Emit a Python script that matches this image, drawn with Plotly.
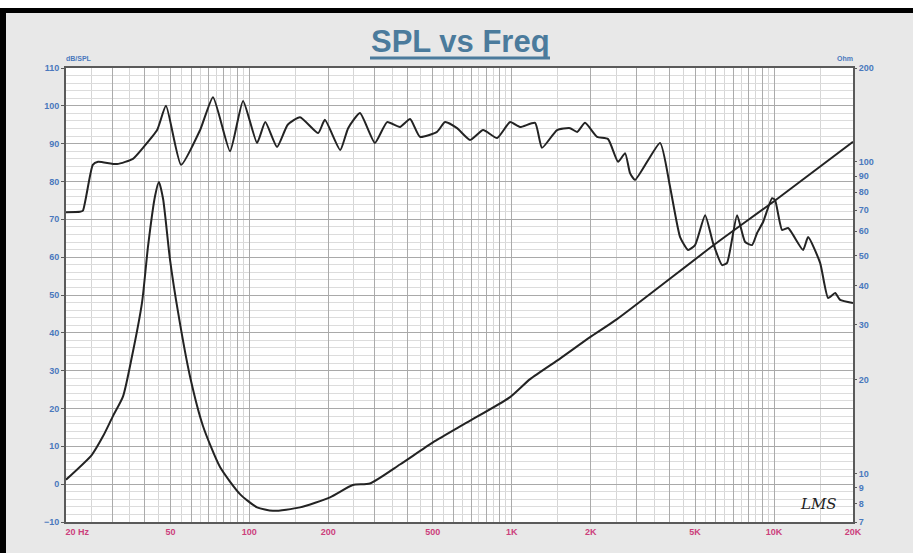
import plotly.graph_objects as go

# ---- data ----
spl_freq = [20, 22.6, 23.2, 25.3, 26.5, 31.3, 36, 39.3, 44.5, 48.1, 54.9, 64.9, 72.7, 84.4, 94.6,
            107, 115, 127.5, 140, 156, 183, 194, 222, 238, 264, 301, 335, 375, 410, 447, 519, 557,
            619, 694, 778, 880, 986, 1076, 1228, 1305, 1489, 1669, 1776, 1904, 2116, 2330, 2544,
            2706, 2826, 2953, 3678, 4017, 4385, 4702, 5000, 5462, 5858, 6340, 6622, 7230, 7758,
            8248, 8618, 9086, 9830, 10092, 10732, 11312, 11818, 12904, 13486, 14986, 16078, 17100,
            17864, 20000]
spl_db = [71.9, 72.0, 72.3, 84.4, 85.2, 84.6, 86.0, 88.9, 93.6, 100.0, 84.4, 93.6, 102.3, 88.0, 101.3,
          90.2, 95.7, 89.1, 95.0, 97.0, 92.8, 96.3, 88.3, 94.1, 98.1, 90.2, 95.7, 94.4, 96.5, 91.8, 93.1, 95.7,
          94.1, 91.0, 93.6, 91.5, 95.7, 94.4, 95.5, 88.9, 93.6, 94.1, 93.1, 95.5, 91.8, 91.2, 85.2,
          87.5, 82.2, 80.4, 90.2, 78.5, 65.3, 61.9, 63.2, 71.1, 63.7, 57.9, 58.5, 71.1, 64.0,
          63.2, 66.4, 69.3, 75.6, 75.1, 67.2, 67.7, 65.9, 61.9, 65.3, 58.5, 49.2, 50.5,
          48.7, 47.9]

imp_freq = [20, 25.1, 27.7, 30.2, 33.0, 35.7, 39.0, 41.1, 43.7, 45.2, 46.9, 49.8, 53.5, 59.4, 66.6,
            77.3, 92.1, 107, 123, 156, 203, 248, 288, 375, 501, 676, 986, 1175, 1529, 1990, 2521,
            5963, 10092, 20000]
imp_ohm = [9.57, 11.5, 13.2, 15.3, 17.7, 23.8, 35.5, 53.7, 77.7, 86.2, 76.0, 48.8, 32.9, 20.5, 14.2,
           10.5, 8.6, 7.8, 7.6, 7.8, 8.4, 9.2, 9.3, 10.7, 12.6, 14.6, 17.6, 20.1, 23.4, 27.4, 31.3,
           54.5, 75.2, 116]

x_tick_vals = [20, 50, 100, 200, 500, 1000, 2000, 5000, 10000, 20000]
x_tick_text = ["20 Hz", "50", "100", "200", "500", "1K", "2K", "5K", "10K", "20K"]
spl_ticks = [-10, 0, 10, 20, 30, 40, 50, 60, 70, 80, 90, 100, 110]
ohm_ticks = [7, 8, 9, 10, 20, 30, 40, 50, 60, 70, 80, 90, 100, 200]

# ---- grid positions (computed) ----
major_grid, minor_grid = [], []
for dec in [10, 100, 1000, 10000]:
    for m in range(1, 10):
        v = m * dec
        if 20 <= v <= 20000:
            major_grid.append(v)
        h = (m + 0.5) * dec
        if 20 <= h <= 20000:
            minor_grid.append(h)
major_vals = sorted(set(major_grid))
major_text = [x_tick_text[x_tick_vals.index(v)] if v in x_tick_vals else "" for v in major_vals]
major_text[0] = "\u00a0" * 9 + "20 Hz"

BG = "#e8e8e8"
BLUE = "#4a78bd"
PINK = "#cc3f7c"
TITLE = "#4b7b9c"
LINE = "#232323"

fig = go.Figure()
fig.add_trace(go.Scatter(x=spl_freq, y=spl_db, mode="lines",
                         line=dict(color=LINE, width=2, shape="spline", smoothing=0.5),
                         showlegend=False, yaxis="y"))
fig.add_trace(go.Scatter(x=imp_freq, y=imp_ohm, mode="lines",
                         line=dict(color=LINE, width=2, shape="spline", smoothing=0.6),
                         showlegend=False, yaxis="y2"))

W, H = 913, 553
L, R, T, B = 66, 60, 68, 31
pw, ph = W - L - R, H - T - B


def px(x):
    return (x - L) / pw


def py(y):
    return (H - B - y) / ph


fig.update_layout(
    width=W, height=H, autosize=False,
    margin=dict(l=L, r=R, t=T, b=B, pad=0, autoexpand=False),
    paper_bgcolor=BG, plot_bgcolor="white",
    font=dict(family="Liberation Sans, Arial, sans-serif"),
    xaxis=dict(
        type="log", range=[1.30103, 4.30103], automargin=False,
        tickvals=major_vals, ticktext=major_text,
        tickfont=dict(size=9, color=PINK, weight="bold"),
        showgrid=True, gridcolor="#ababab", gridwidth=1,
        minor=dict(tickvals=minor_grid, showgrid=True, gridcolor="#d6d6d6", gridwidth=1, ticks=""),
        showline=True, linecolor="#5a5a5a", linewidth=2, mirror=True,
        ticks="", zeroline=False,
    ),
    yaxis=dict(
        range=[-10, 110], tickvals=spl_ticks, automargin=False,
        tickfont=dict(size=9, color=BLUE, weight="bold"),
        showgrid=True, gridcolor="#a9a9a9", gridwidth=1,
        minor=dict(dtick=2, showgrid=True, gridcolor="#dcdcdc", gridwidth=1),
        showline=True, linecolor="#5a5a5a", linewidth=2, mirror=True,
        ticks="outside", ticklen=3, tickcolor="#5a5a5a", zeroline=False,
    ),
    yaxis2=dict(
        type="log", range=[0.845098, 2.30103], overlaying="y", side="right", automargin=False,
        tickvals=ohm_ticks, ticktext=[str(v) for v in ohm_ticks],
        tickfont=dict(size=9, color=BLUE, weight="bold"),
        showgrid=False, showline=False, ticks="outside", ticklen=3, tickcolor="#5a5a5a",
        zeroline=False,
    ),
    annotations=[
        dict(text="SPL vs Freq", x=px(460), y=py(41), xref="paper", yref="paper",
             showarrow=False, xanchor="center", yanchor="middle",
             font=dict(size=31, color=TITLE, weight="bold", family="Liberation Sans, Arial")),
        dict(text="dB/SPL", x=px(64), y=py(58), xref="paper", yref="paper", showarrow=False,
             xanchor="left", yanchor="middle", font=dict(size=7, color=BLUE, weight="bold")),
        dict(text="Ohm", x=px(855), y=py(58), xref="paper", yref="paper", showarrow=False,
             xanchor="right", yanchor="middle", font=dict(size=7, color=BLUE, weight="bold")),
        dict(text="<i>LMS</i>", x=px(818), y=py(504), xref="paper", yref="paper", showarrow=False,
             xanchor="center", yanchor="middle",
             font=dict(size=15, color="#222", family="DejaVu Serif, serif")),
    ],
    shapes=[
        # title underline
        dict(type="line", xref="paper", yref="paper", x0=px(370), x1=px(550), y0=py(58), y1=py(58),
             line=dict(color=TITLE, width=3)),
        # white strip at top
        dict(type="rect", xref="paper", yref="paper", x0=px(0), x1=px(W), y0=py(8), y1=py(0),
             fillcolor="white", line=dict(width=0)),
        # black border top
        dict(type="rect", xref="paper", yref="paper", x0=px(0), x1=px(W), y0=py(13), y1=py(8),
             fillcolor="black", line=dict(width=0)),
        # black border left
        dict(type="rect", xref="paper", yref="paper", x0=px(0), x1=px(6), y0=py(H), y1=py(8),
             fillcolor="black", line=dict(width=0)),
    ],
)

fig.write_html(
    "out.html",
    config={"displayModeBar": False},
    post_script="document.body.style.margin='0';document.body.style.padding='0';"
                "document.body.style.overflow='hidden';",
)
